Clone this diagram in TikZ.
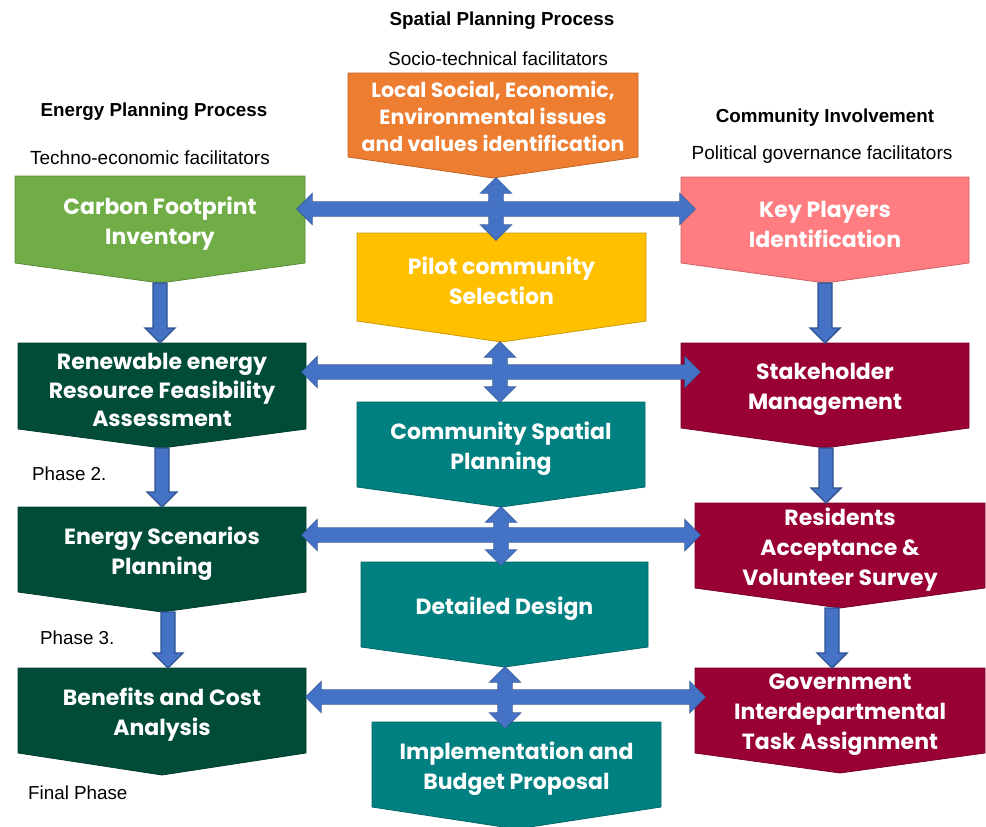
\documentclass[tikz,border=0pt]{standalone}
\usepackage{fontspec}
\setmainfont{Liberation Sans}
\newfontfamily\boxfont{Poppins}
\usetikzlibrary{calc,backgrounds}
\definecolor{cOrange}{HTML}{ED7D31}
\definecolor{cGreen}{HTML}{70AD47}
\definecolor{cPink}{HTML}{FF7C80}
\definecolor{cYellow}{HTML}{FFC000}
\definecolor{cDkGreen}{HTML}{004C38}
\definecolor{cDkRed}{HTML}{990033}
\definecolor{cTeal}{HTML}{008080}
\definecolor{cBlue}{HTML}{4472C4}
\definecolor{cBlueLine}{HTML}{2F528F}
\tikzset{
  boxnode/.style={inner sep=0pt, outer sep=0pt},
  boxtext/.style={inner sep=0pt, align=center, text=white,
    font=\boxfont\bfseries\fontsize{22}{30}\selectfont},
  hdr/.style={inner sep=0pt, font=\bfseries\fontsize{18.8}{22}\selectfont},
  sub/.style={inner sep=0pt, font=\fontsize{19}{22}\selectfont},
  phase/.style={inner sep=0pt, anchor=west, font=\fontsize{18.8}{22}\selectfont},
  arrline/.style={draw=cBlueLine, line width=1.4pt, line join=miter},
  arrfill/.style={fill=cBlue},
}
% [text options] name, left, top, width, height, depth, colour, text
\newcommand\pbox[9][]{%
  \node[boxnode, minimum width=#5pt, minimum height=#6pt] (#2) at ({#3+#5/2},{#4+#6/2}) {};
  \coordinate (#2-tip) at ($(#2.south)+(0,-#7pt)$);
  \filldraw[fill=#8, draw=#8!80!black, line width=0.8pt]
      (#2.north west) -- (#2.north east) -- (#2.south east) -- (#2-tip) -- (#2.south west) -- cycle;
  \node[boxtext,#1] (#2-t) at ($(#2.center)+(0,-4pt)$) {#9};}
% vertical double arrow: top point, bottom point, x reference
\def\vdbl#1#2#3{let \p1=(#1), \p2=(#2), \p3=(#3) in
  (\x3,\y1) -- (\x3+15pt,\y1-15pt) -- (\x3+7pt,\y1-15pt) -- (\x3+7pt,\y2+15pt) -- (\x3+15pt,\y2+15pt)
  -- (\x3,\y2) -- (\x3-15pt,\y2+15pt) -- (\x3-7pt,\y2+15pt) -- (\x3-7pt,\y1-15pt) -- (\x3-15pt,\y1-15pt) -- cycle}
% horizontal double arrow: left point, right point, y reference
\def\hdbl#1#2#3{let \p1=(#1), \p2=(#2), \p3=(#3) in
  (\x1,\y3) -- (\x1+15pt,\y3+15pt) -- (\x1+15pt,\y3+7pt) -- (\x2-15pt,\y3+7pt) -- (\x2-15pt,\y3+15pt)
  -- (\x2,\y3) -- (\x2-15pt,\y3-15pt) -- (\x2-15pt,\y3-7pt) -- (\x1+15pt,\y3-7pt) -- (\x1+15pt,\y3-15pt) -- cycle}
% single down arrow: start point, end point, x reference
\def\vdown#1#2#3{let \p1=(#1), \p2=(#2), \p3=(#3) in
  (\x3-7pt,\y1) -- (\x3+7pt,\y1) -- (\x3+7pt,\y2+15pt) -- (\x3+15pt,\y2+15pt) -- (\x3,\y2)
  -- (\x3-15pt,\y2+15pt) -- (\x3-7pt,\y2+15pt) -- cycle}
\begin{document}
\begin{tikzpicture}[x=1pt,y=-1pt]
\useasboundingbox (0,0) rectangle (986,827);

% headers
\node[hdr] (hSP) at (502,21) {Spatial Planning Process};
\node[sub] (sSP) at (498,59) {Socio-technical facilitators};
\node[hdr] (hEP) at (154,112) {Energy Planning Process};
\node[sub] (sEP) at (150,158) {Techno-economic facilitators};
\node[hdr] (hCI) at (825,118) {Community Involvement};
\node[sub] (sCI) at (822,155) {Political governance facilitators};

% boxes
\pbox[font=\boxfont\bfseries\fontsize{20.5}{27}\selectfont, yshift=3pt]{LS}{348}{73}{290}{84}{21}{cOrange}{Local Social, Economic,\\Environmental issues\\and values identification}
\pbox{CF}{15}{176}{290}{87}{20}{cGreen}{Carbon Footprint\\Inventory}
\pbox{KP}{681}{177}{288}{86}{20}{cPink}{Key Players\\Identification}
\pbox{PC}{357}{233}{289}{88}{21}{cYellow}{Pilot community\\Selection}
\pbox[font=\boxfont\bfseries\fontsize{22}{28.5}\selectfont]{RE}{18}{343}{288}{86}{19}{cDkGreen}{Renewable energy\\Resource Feasibility\\Assessment}
\pbox{SM}{681}{343}{288}{85}{20}{cDkRed}{Stakeholder\\Management}
\pbox{CS}{357}{402}{288}{85}{20}{cTeal}{Community Spatial\\Planning}
\pbox{ES}{18}{507}{288}{85}{20}{cDkGreen}{Energy Scenarios\\Planning}
\pbox{RA}{695}{503}{290}{85}{20}{cDkRed}{Residents\\Acceptance \&\\Volunteer Survey}
\pbox{DD}{361}{562}{287}{85}{20}{cTeal}{Detailed Design}
\pbox{BC}{18}{668}{288}{85}{22}{cDkGreen}{Benefits and Cost\\Analysis}
\pbox{GI}{695}{668}{290}{85}{20}{cDkRed}{Government\\Interdepartmental\\Task Assignment}
\pbox{IB}{372}{722}{289}{85}{22}{cTeal}{Implementation and\\Budget Proposal}

% phase labels
\node[phase] (p2) at (32,474) {Phase 2.};
\node[phase] (p3) at (40,638) {Phase 3.};
\node[phase] (pf) at (28,793) {Final Phase};

% cross arrow reference points
\coordinate (X1) at (496,209);
\coordinate (X2) at (500,372);
\coordinate (X3) at (501,535);
\coordinate (X4) at (505,697);
\coordinate (h1l) at ($(CF.east|-X1)+(-8pt,0)$);
\coordinate (h1r) at ($(KP.west|-X1)+(14pt,0)$);
\coordinate (v1b) at ($(PC.north)+(0,-7pt)$);
\coordinate (h2l) at ($(RE.east|-X2)+(-4pt,0)$);
\coordinate (h2r) at ($(SM.west|-X2)+(19pt,0)$);
\coordinate (h3l) at ($(ES.east|-X3)+(-4pt,0)$);
\coordinate (h3r) at ($(RA.west|-X3)+(5pt,0)$);
\coordinate (v3b) at ($(DD.north)+(0,-3pt)$);
\coordinate (h4l) at ($(BC.east|-X4)$);
\coordinate (h4r) at ($(GI.west|-X4)+(10pt,0)$);
\coordinate (v4b) at ($(IB.north)+(0,-6pt)$);

% outlines first, then fills (union outline)
\draw[arrline] \hdbl{h1l}{h1r}{X1};
\draw[arrline] \vdbl{LS-tip}{v1b}{X1};
\draw[arrline] \hdbl{h2l}{h2r}{X2};
\draw[arrline] \vdbl{PC-tip}{CS.north}{X2};
\draw[arrline] \hdbl{h3l}{h3r}{X3};
\draw[arrline] \vdbl{CS-tip}{v3b}{X3};
\draw[arrline] \hdbl{h4l}{h4r}{X4};
\draw[arrline] \vdbl{DD-tip}{v4b}{X4};
\fill[arrfill] \hdbl{h1l}{h1r}{X1};
\fill[arrfill] \vdbl{LS-tip}{v1b}{X1};
\fill[arrfill] \hdbl{h2l}{h2r}{X2};
\fill[arrfill] \vdbl{PC-tip}{CS.north}{X2};
\fill[arrfill] \hdbl{h3l}{h3r}{X3};
\fill[arrfill] \vdbl{CS-tip}{v3b}{X3};
\fill[arrfill] \hdbl{h4l}{h4r}{X4};
\fill[arrfill] \vdbl{DD-tip}{v4b}{X4};

% down arrows
\coordinate (d3x) at ($(ES-tip)+(6pt,0)$);
\coordinate (d5x) at ($(SM-tip)+(1pt,0)$);
\coordinate (d6x) at ($(RA-tip)+(-8pt,0)$);
\filldraw[arrline, arrfill] \vdown{CF-tip}{RE.north}{CF-tip};
\filldraw[arrline, arrfill] \vdown{RE-tip}{ES.north}{RE-tip};
\filldraw[arrline, arrfill] \vdown{ES-tip}{BC.north}{d3x};
\filldraw[arrline, arrfill] \vdown{KP-tip}{SM.north}{KP-tip};
\filldraw[arrline, arrfill] \vdown{SM-tip}{RA.north}{d5x};
\filldraw[arrline, arrfill] \vdown{RA-tip}{GI.north}{d6x};
\end{tikzpicture}
\end{document}
